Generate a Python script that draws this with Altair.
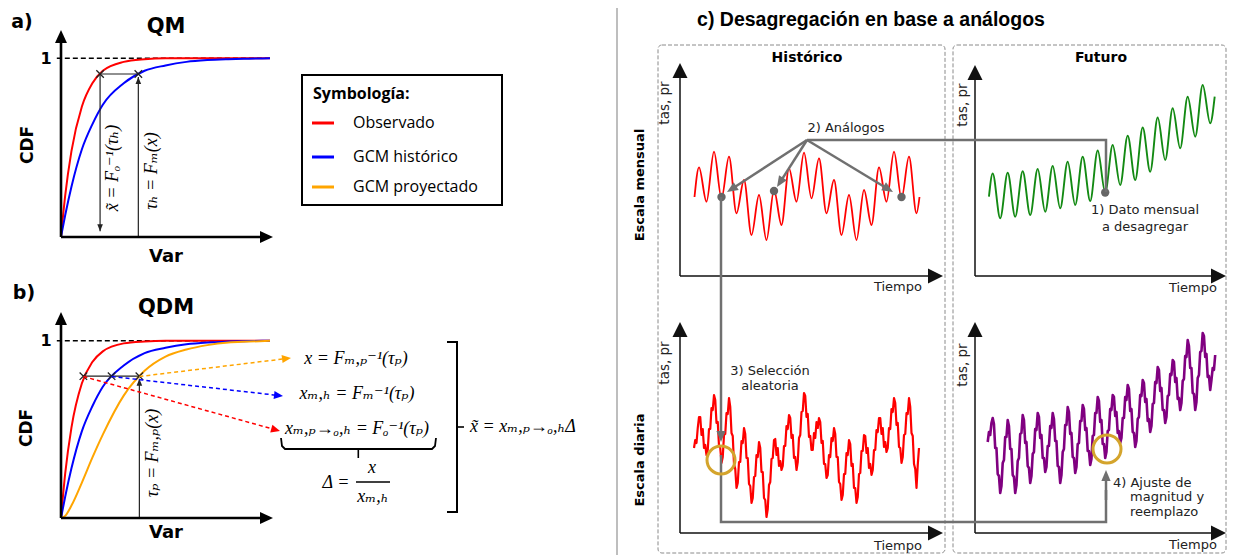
import altair as alt
import pandas as pd

# ---------------- values ----------------
# a) / b): cumulative distribution curves (Var 0..1, CDF 0..1)
var_grid = [0, 0.02, 0.05, 0.1, 0.15, 0.2, 0.3, 0.4, 0.5, 0.6, 0.7, 0.8, 0.9, 1.0]
cdf_obs_qm = [0, 0.23, 0.48, 0.73, 0.86, 0.93, 0.98, 0.995, 1, 1, 1, 1, 1, 1]
cdf_hist = [0, 0.12, 0.28, 0.49, 0.63, 0.74, 0.86, 0.93, 0.96, 0.98, 0.99, 0.995, 0.998, 1]
cdf_obs_qdm = [0, 0.25, 0.51, 0.76, 0.88, 0.94, 0.985, 0.996, 1, 1, 1, 1, 1, 1]
cdf_proj = [0, 0.012, 0.07, 0.2, 0.34, 0.47, 0.69, 0.83, 0.91, 0.95, 0.975, 0.99, 0.995, 1]
series_names = ["Observado", "GCM histórico", "GCM proyectado"]

qm_tau = 0.912
qm_var_obs = 0.187
qm_var_hist = 0.37
qdm_tau = 0.80
qdm_var = [0.107, 0.242, 0.375]

# c): monthly series (extremes, arbitrary units)
t_red_month = [0.2] + [k / 2 for k in range(1, 31)] + [15.2]
red_month = [43, 72.7, 38.3, 88.3, 41.7, 83.3, 26.7, 60, 5, 45, 0, 50, 15,
             71.7, 38.3, 87.3, 41.7, 81.7, 26.7, 60, 5, 45, 0, 50, 15,
             72.7, 38.3, 88.3, 41.7, 83.3, 26.7, 43]
t_green_month = [0.25] + [k / 2 for k in range(1, 31)] + [15.3]
green_month = [43.3, 66.5, 21.7, 67.2, 23.3, 68.7, 25, 71, 28.3, 74, 31.7, 78.3, 35,
               83.3, 39, 89.5, 47.5, 95, 55, 104.2, 60, 112.5, 68.3, 122.5, 80,
               131.7, 91.7, 143.3, 103.3, 155, 116.7, 143.3]
analog_t = [2.0, 5.5, 14.0]
analog_v = [43, 49, 43]
target_t = [8.0]
target_v = [47.5]

# c): daily series (one value every 1/12 of a month)
t_red_day = [k / 12 for k in range(2, 183)]
red_day = [72, 80, 77, 92, 103,
           103, 85, 91, 72, 75, 65,
           70, 91, 91, 112, 110, 125,
           120, 97, 98, 74, 72, 57,
           63, 85, 86, 107, 106, 122,
           113, 87, 84, 56, 51, 32,
           37, 58, 58, 79, 77, 92,
           86, 62, 62, 36, 34, 17,
           22, 43, 44, 65, 63, 78,
           72, 48, 48, 22, 20, 3,
           11, 35, 38, 61, 62, 80,
           81, 65, 72, 54, 59, 50,
           54, 74, 74, 94, 91, 105,
           102, 82, 85, 62, 63, 50,
           58, 82, 85, 108, 109, 127,
           124, 103, 106, 83, 84, 70,
           70, 87, 82, 98, 92, 102,
           98, 77, 79, 56, 56, 42,
           45, 65, 63, 82, 79, 92,
           86, 63, 63, 38, 36, 20,
           25, 46, 46, 67, 65, 80,
           76, 54, 56, 32, 32, 17,
           23, 46, 47, 69, 69, 85,
           84, 67, 72, 52, 56, 45,
           50, 70, 70, 90, 88, 102,
           102, 86, 92, 73, 78, 68,
           72, 92, 91, 111, 108, 122,
           117, 95, 97, 73, 72, 57,
           63, 85, 86, 107, 106, 122,
           113, 87, 84, 56, 51, 32,
           55, 72]
t_purple_day = [k / 12 for k in range(2, 185)]
purple_day = [78, 88, 85, 97, 102,
              96, 72, 72, 46, 44, 27,
              34, 57, 60, 83, 83, 100,
              94, 71, 71, 45, 43, 27,
              35, 59, 62, 86, 87, 105,
              100, 77, 78, 54, 52, 37,
              44, 66, 68, 91, 90, 107,
              103, 82, 85, 62, 62, 48,
              53, 74, 74, 94, 92, 107,
              101, 79, 79, 54, 53, 37,
              45, 68, 71, 95, 95, 113,
              108, 86, 87, 63, 62, 47,
              53, 76, 77, 99, 99, 115,
              111, 90, 92, 69, 69, 55,
              61, 84, 85, 107, 107, 123,
              119, 98, 100, 76, 76, 62,
              68, 89, 90, 111, 110, 125,
              123, 104, 108, 87, 89, 77,
              82, 102, 102, 123, 120, 135,
              131, 109, 111, 88, 87, 73,
              79, 101, 103, 125, 124, 140,
              137, 118, 121, 99, 101, 88,
              94, 116, 117, 138, 137, 153,
              150, 129, 132, 110, 110, 97,
              103, 124, 125, 146, 145, 160,
              158, 138, 142, 121, 122, 110,
              117, 139, 141, 164, 163, 180,
              174, 152, 152, 127, 126, 110,
              118, 142, 145, 168, 169, 187,
              184, 163, 166, 143, 144, 130,
              140, 152, 150, 165]

# ---------------- layout (page pixels) ----------------
OFF = 8
W, H = 1219, 547
RED, BLUE, ORANGE = "#FF0000", "#0000FF", "#FFA500"
GREEN, PURPLE = "#138A13", "#800080"
GRAY, GOLD = "#707070", "#D4A42C"


def rng(a, b):
    return [a - OFF, b - OFF]


def sc(domain, rg):
    return alt.Scale(domain=domain, range=rg, nice=False, zero=False)


XG = sc([OFF, OFF + W], [0, W])
YG = sc([OFF, OFF + H], [0, H])


def xy(xf, yf, xs=XG, ys=YG):
    return dict(x=alt.X(f"{xf}:Q", scale=xs, axis=None),
                y=alt.Y(f"{yf}:Q", scale=ys, axis=None))


def rules(rows, color, width, dash=None, xs=XG, ys=YG):
    df = pd.DataFrame(rows, columns=["x1", "y1", "x2", "y2"])
    kw = dict(color=color, strokeWidth=width)
    if dash:
        kw["strokeDash"] = dash
    return alt.Chart(df).mark_rule(**kw).encode(**xy("x1", "y1", xs, ys), x2="x2:Q", y2="y2:Q")


def arrows(rows, color, width, head, ratio=0.45, dash=None, xs=XG, ys=YG, kx=1, ky=1, shorten=True):
    df = pd.DataFrame(rows, columns=["x1", "y1", "x2", "y2"])
    sh = 0.8 * head if shorten else 0
    base = alt.Chart(df).transform_calculate(
        sdx=f"(datum.x2 - datum.x1) * ({kx})",
        sdy=f"(datum.y2 - datum.y1) * ({ky})",
    ).transform_calculate(
        dl="sqrt(datum.sdx * datum.sdx + datum.sdy * datum.sdy)",
    ).transform_calculate(
        ex=f"datum.x2 - {sh} * datum.sdx / datum.dl / ({kx})",
        ey=f"datum.y2 - {sh} * datum.sdy / datum.dl / ({ky})",
        ang="(atan2(datum.sdx, -datum.sdy) * 180 / PI + 360) % 360",
    )
    kw = dict(color=color, strokeWidth=width)
    if dash:
        kw["strokeDash"] = dash
    line = base.mark_rule(**kw).encode(**xy("x1", "y1", xs, ys), x2="ex:Q", y2="ey:Q")
    tip = base.mark_point(shape=f"M0,0L{ratio},1L{-ratio},1Z", filled=True, color=color,
                          opacity=1, strokeWidth=0, size=4 * head * head).encode(
        **xy("x2", "y2", xs, ys), angle=alt.Angle("ang:Q", scale=None))
    return [line, tip]


def polyline(pts, color, width, dash=None):
    df = pd.DataFrame(pts, columns=["x", "y"])
    df["o"] = range(len(df))
    kw = dict(color=color, strokeWidth=width, strokeJoin="miter")
    if dash:
        kw["strokeDash"] = dash
    return alt.Chart(df).mark_line(**kw).encode(**xy("x", "y"), order="o:Q")


def texts(rows, size, font="DejaVu Sans", weight="normal", color="black", angle=0,
          align="center", style="normal"):
    df = pd.DataFrame(rows, columns=["x", "y", "t"])
    kw = dict(font=font, fontSize=size, fontWeight=weight, color=color, align=align,
              baseline="middle", fontStyle=style)
    if angle:
        kw["angle"] = angle
    return alt.Chart(df).mark_text(**kw).encode(**xy("x", "y"), text="t:N")


def boxes(rows, stroke, width, dash=None, fill="white", fill_op=1, radius=0):
    df = pd.DataFrame(rows, columns=["x1", "y1", "x2", "y2"])
    kw = dict(stroke=stroke, strokeWidth=width, fill=fill, fillOpacity=fill_op, cornerRadius=radius)
    if dash:
        kw["strokeDash"] = dash
    return alt.Chart(df).mark_rect(**kw).encode(**xy("x1", "y1"), x2="x2:Q", y2="y2:Q")


# ---------------- background ----------------
background = alt.layer(
    rules([(617, 0, 617, 560)], "#A8A8A8", 1.5),
    boxes([(658, 45, 945, 553), (953, 45, 1226, 553)], "#8A8A8A", 1, dash=[4, 2], fill_op=0, radius=4),
    boxes([(302, 75, 502, 205)], "black", 2),
)

# ---------------- a) and b) CDF panels ----------------
XC = sc([0, 1], rng(61, 270))
YCA = sc([0, 1], rng(236.7, 58.3))
YCB = sc([0, 1], rng(518, 340.7))
KX, KY = 209, -178
XMARK = "M-1,-1L1,1M-1,1L1,-1"
COLORS = alt.Scale(domain=series_names, range=[RED, BLUE, ORANGE])


def cdf_panel(ys, curves, tau, marks_x, inner_rules, inner_arrows):
    n = len(var_grid)
    df = pd.DataFrame({
        "var": var_grid * len(curves),
        "cdf": sum([c for _, c in curves], []),
        "serie": sum([[name] * n for name, _ in curves], []),
    })
    lines = alt.Chart(df).mark_line(strokeWidth=2, interpolate="monotone").encode(
        **xy("var", "cdf", XC, ys),
        color=alt.Color("serie:N", scale=COLORS, legend=None),
        detail="serie:N")
    one = rules([(-0.02, 1, 1.0, 1)], "black", 1.6, dash=[5, 3], xs=XC, ys=ys)
    inner = rules(inner_rules, "#222222", 1.2, xs=XC, ys=ys)
    arr = arrows(inner_arrows, "#222222", 1.2, 7, ratio=0.4, xs=XC, ys=ys, kx=KX, ky=KY, shorten=False)
    mk = alt.Chart(pd.DataFrame({"var": marks_x, "cdf": [tau] * len(marks_x)})).mark_point(
        shape=XMARK, filled=False, color="#222222", strokeWidth=1.3, size=56, opacity=1).encode(
        **xy("var", "cdf", XC, ys))
    return alt.layer(one, lines, inner, *arr, mk)


panel_a = cdf_panel(
    YCA, [("Observado", cdf_obs_qm), ("GCM histórico", cdf_hist)], qm_tau,
    [qm_var_obs, qm_var_hist],
    [(qm_var_obs, qm_tau, qm_var_hist, qm_tau)],
    [(qm_var_hist, 0, qm_var_hist, 0.895), (qm_var_obs, qm_tau, qm_var_obs, 0.03)])
panel_b = cdf_panel(
    YCB, [("Observado", cdf_obs_qdm), ("GCM histórico", cdf_hist), ("GCM proyectado", cdf_proj)],
    qdm_tau, qdm_var,
    [(qdm_var[0], qdm_tau, qdm_var[2], qdm_tau)],
    [(qdm_var[2], 0, qdm_var[2], 0.785)])

# ---------------- c) series panels ----------------
XTL = sc([0, 16], rng(691.5, 931.5))
XTR = sc([0, 16], rng(985.2, 1225.2))
YTOP = sc([0, 100], rng(240, 140))
YBOT = sc([0, 100], rng(520, 420))


def series(t, v, xs, ys, color, width, interp):
    df = pd.DataFrame({"t": t, "v": v})
    return alt.Chart(df).mark_line(color=color, strokeWidth=width, interpolate=interp,
                                   strokeJoin="round").encode(**xy("t", "v", xs, ys))


def dots(t, v, xs, ys):
    df = pd.DataFrame({"t": t, "v": v})
    return alt.Chart(df).mark_circle(color="#666666", size=70, opacity=1).encode(**xy("t", "v", xs, ys))


tl = alt.layer(series(t_red_month, red_month, XTL, YTOP, RED, 1.8, "monotone"),
               dots(analog_t, analog_v, XTL, YTOP))
tr = alt.layer(series(t_green_month, green_month, XTR, YTOP, GREEN, 1.9, "monotone"),
               dots(target_t, target_v, XTR, YTOP))
bl = series(t_red_day, red_day, XTL, YBOT, RED, 2.2, "linear")
br = series(t_purple_day, purple_day, XTR, YBOT, PURPLE, 2.6, "linear")

# ---------------- foreground: axes, arrows, texts ----------------
fg = []
# axes of a) and b)
fg += arrows([(61, 237, 61, 30), (61, 237, 273, 237), (61, 518, 61, 312), (61, 518, 273, 518)],
             "black", 2.6, 13, ratio=0.46)
# axes of c)
fg += arrows([(680, 276, 680, 63), (680, 276, 943, 276), (975, 276, 975, 65), (975, 276, 1226, 276),
              (680, 533, 680, 322), (680, 533, 943, 533), (975, 533, 975, 322), (975, 533, 1226, 533)],
             "#111111", 1.5, 15, ratio=0.5)
# dashed arrows b)
fg += arrows([(139.4, 376.5, 291, 358)], ORANGE, 1.5, 9, dash=[4, 3])
fg += arrows([(111.6, 376.5, 283, 396)], BLUE, 1.5, 9, dash=[4, 3])
fg += arrows([(83.4, 376.5, 280, 431)], RED, 1.5, 9, dash=[4, 3])
# legend swatches
fg.append(rules([(312, 123, 334, 123)], RED, 3))
fg.append(rules([(312, 157, 334, 157)], BLUE, 3))
fg.append(rules([(312, 187, 334, 187)], ORANGE, 3))
# braces and fraction
fg.append(polyline([(447, 342), (457, 342), (457, 512), (447, 512)], "black", 2))
fg.append(rules([(457, 427, 464, 427), (356, 482, 390, 482), (358.3, 449, 358.3, 458)], "black", 1.6))
fg.append(polyline([(281, 438), (282, 446), (285, 449), (432, 449), (435, 446), (436, 438)], "black", 1.8))
# gray connectors c)
fg.append(polyline([(807, 140), (1106, 140), (1106, 192)], GRAY, 2.5))
fg += arrows([(807, 140, 727, 192), (807, 140, 777, 187), (807, 140, 893, 192), (721, 197, 721, 442)],
             GRAY, 2.5, 11, ratio=0.42)
fg.append(polyline([(721, 455), (721, 522), (1106, 522), (1106, 490)], GRAY, 2.5))
fg += arrows([(1106, 500, 1106, 470)], GRAY, 2.5, 11, ratio=0.42)
# orange selection rings
rings = pd.DataFrame([(721, 460), (1107, 449)], columns=["x", "y"])
fg.append(alt.Chart(rings).mark_point(shape="circle", filled=False, color=GOLD, strokeWidth=3,
                                      size=784, opacity=1).encode(**xy("x", "y")))

# texts
fg.append(texts([(22, 22, "a)"), (24, 293, "b)")], 19, weight="bold"))
fg.append(texts([(166, 27, "QM"), (166, 308, "QDM")], 21, weight="bold"))
fg.append(texts([(46, 59, "1"), (46, 341, "1")], 16, weight="bold"))
fg.append(texts([(28, 145, "CDF"), (27, 428, "CDF")], 17, weight="bold", angle=270))
fg.append(texts([(166, 257, "Var"), (166, 533, "Var")], 18, weight="bold"))
fg.append(texts([(313, 94, "Symbología:")], 16, font="Open Sans", weight="bold", align="left"))
fg.append(texts([(353, 123, "Observado"), (353, 157, "GCM histórico"), (353, 187, "GCM proyectado")],
                16, font="Open Sans", align="left"))
MATH = "Liberation Serif, DejaVu Serif"
fg.append(texts([(113, 168, "x̃ = Fₒ⁻¹(τₕ)"), (152, 171, "τₕ = Fₘ(x)"), (153, 453, "τₚ = Fₘ,ₚ(x)")],
                18, font=MATH, style="italic", angle=270))
fg.append(texts([(356, 359, "x = Fₘ,ₚ⁻¹(τₚ)"), (357, 394, "xₘ,ₕ = Fₘ⁻¹(τₚ)"),
                 (357, 429, "xₘ,ₚ→ₒ,ₕ = Fₒ⁻¹(τₚ)"), (336, 483, "Δ ="), (372, 468, "x"),
                 (373, 497, "xₘ,ₕ")], 18, font=MATH, style="italic"))
fg.append(texts([(470, 427, "x̃ = xₘ,ₚ→ₒ,ₕΔ")], 18, font=MATH, style="italic", align="left"))
fg.append(texts([(871, 20, "c) Desagregación en base a análogos")], 19.5, font="Liberation Sans",
                weight="bold"))
fg.append(texts([(807, 58, "Histórico"), (1101, 58, "Futuro")], 14, weight="bold"))
fg.append(texts([(640, 185, "Escala mensual"), (640, 460, "Escala diaria")], 13, weight="bold", angle=270))
fg.append(texts([(665, 103, "tas, pr"), (963, 105, "tas, pr"), (665, 363, "tas, pr"), (963, 365, "tas, pr")],
                13.5, color="#222222", angle=270))
fg.append(texts([(922, 287, "Tiempo"), (1217, 288, "Tiempo"), (922, 546, "Tiempo"), (1217, 545, "Tiempo")],
                13, color="#222222", align="right"))
fg.append(texts([(846, 128, "2) Análogos"), (1145, 210, "1) Dato mensual"), (1145, 227, "a desagregar"),
                 (770, 371, "3) Selección"), (770, 386, "aleatoria")], 13, color="#222222"))
fg.append(texts([(1113, 483, "4) Ajuste de"), (1130, 497, "magnitud y"), (1130, 512, "reemplazo")],
                13, color="#222222", align="left"))

foreground = alt.layer(*fg)

chart = alt.layer(background, panel_a, panel_b, tl, tr, bl, br, foreground).resolve_scale(
    x="independent", y="independent"
).properties(
    width=W, height=H, padding=0, autosize=alt.AutoSizeParams(type="none"), background="white"
).configure_view(stroke=None)

chart.save("out.html", embed_options={"renderer": "svg", "actions": False})
